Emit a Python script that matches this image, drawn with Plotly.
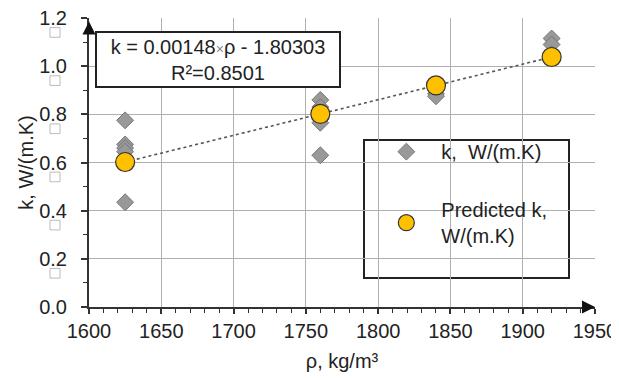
import plotly.graph_objects as go

# measured data
rho_meas = [1625, 1625, 1625, 1625, 1625,
            1760, 1760, 1760, 1760, 1760,
            1840, 1840, 1840, 1840,
            1920, 1920, 1920]
k_meas = [0.775, 0.675, 0.66, 0.645, 0.435,
          0.86, 0.83, 0.78, 0.765, 0.63,
          0.92, 0.90, 0.885, 0.875,
          1.115, 1.09, 1.05]

rho_pred = [1625, 1760, 1840, 1920]
k_pred = [0.602, 0.802, 0.920, 1.038]

x_ticks = [1600, 1650, 1700, 1750, 1800, 1850, 1900, 1950]
y_ticks = [0.0, 0.2, 0.4, 0.6, 0.8, 1.0, 1.2]
y_tick_text = ["0.0", "0.2", "0.4", "0.6", "0.8", "1.0", "1.2"]

FONT = "Liberation Sans, Arial, sans-serif"

fig = go.Figure()

# trend line
fig.add_trace(go.Scatter(
    x=rho_pred, y=k_pred, mode="lines",
    line=dict(color="#555555", width=1.6, dash="dot"),
    showlegend=False, hoverinfo="skip"))

fig.add_trace(go.Scatter(
    x=rho_meas, y=k_meas, mode="markers", name="k,  W/(m.K)",
    marker=dict(symbol="diamond", size=13, color="#999999",
                line=dict(color="#777777", width=1)),
    legendgroup="a"))

fig.add_trace(go.Scatter(
    x=rho_pred, y=k_pred, mode="markers", name="Predicted k,<br>W/(m.K)",
    marker=dict(symbol="circle", size=19, color="#FFC000",
                line=dict(color="#333333", width=1.2)),
    legendgroup="b"))

fig.update_layout(
    width=619, height=380,
    margin=dict(l=81, r=32, t=10, b=81, autoexpand=False),
    paper_bgcolor="white", plot_bgcolor="white",
    font=dict(family=FONT, size=20, color="#222222"),
    showlegend=True,
    legend=dict(x=0.558, y=0.605, xanchor="left", yanchor="top",
                bgcolor="rgba(0,0,0,0)", borderwidth=0,
                font=dict(size=20), tracegroupgap=29, itemwidth=60),
)

fig.update_xaxes(
    range=[1600, 1950], tickvals=x_ticks, automargin=False,
    showgrid=True, gridcolor="#b0b0b0", gridwidth=1.2,
    showline=True, linecolor="#333333", linewidth=2,
    ticks="outside", ticklen=5, tickwidth=1.5, tickcolor="#333333",
    minor=dict(dtick=10, ticks="outside", ticklen=4, tickcolor="#333333", tickwidth=1.2, showgrid=False),
    zeroline=False, ticklabelstandoff=0, ticklabeloverflow="allow",
    title=dict(text="ρ, kg/m³", font=dict(size=20), standoff=13),
    tickfont=dict(size=20),
)
fig.update_yaxes(
    range=[0, 1.2], tickvals=y_ticks, ticktext=y_tick_text, automargin=False,
    showgrid=True, gridcolor="#b0b0b0", gridwidth=1.2,
    showline=True, linecolor="#333333", linewidth=2,
    ticks="outside", ticklen=6, tickwidth=1.5, tickcolor="#333333",
    minor=dict(dtick=0.1, ticks="outside", ticklen=4, tickcolor="#333333", tickwidth=1.2, showgrid=False),
    zeroline=False, ticklabelstandoff=10, ticklabeloverflow="allow",
    title=dict(text="k, W/(m.K)", font=dict(size=20), standoff=0),
    tickfont=dict(size=20),
)

# legend box
fig.add_shape(type="rect", xref="paper", yref="paper",
              x0=(364 - 89) / 506, x1=(569 - 89) / 506,
              y0=1 - (278 - 18) / 289, y1=1 - (140 - 18) / 289,
              line=dict(color="#222222", width=2), fillcolor="white", layer="below")

# equation box
fig.add_annotation(
    xref="paper", yref="paper", x=(218 - 89) / 506, y=1 - (59.5 - 18) / 289,
    xanchor="center", yanchor="middle",
    text="k = 0.00148<span style='color:#888888;font-size:14px'>×</span>ρ - 1.80303<br>R²=0.8501",
    showarrow=False, font=dict(size=20, color="#222222"),
    bgcolor="white", bordercolor="#222222", borderwidth=2,
    width=240, height=51, align="center")

# axis arrows
fig.add_annotation(x=1600, y=1.185, xref="x", yref="y", ax=0, ay=14, axref="pixel", ayref="pixel",
                   text="", showarrow=True, arrowhead=2, arrowsize=1.3, arrowwidth=2, arrowcolor="#111111")
fig.add_annotation(x=1950, y=0, xref="x", yref="y", ax=-14, ay=0,
                   text="", showarrow=True, arrowhead=2, arrowsize=1.3, arrowwidth=2, arrowcolor="#111111")

# little empty squares under y tick labels
for v in y_ticks:
    fig.add_shape(type="rect", xref="paper", yref="y",
                  x0=(50 - 89) / 506, x1=(60 - 89) / 506,
                  y0=v - 0.08, y1=v - 0.04,
                  line=dict(color="#bbbbbb", width=1), fillcolor="white")

fig.write_html("out.html")
